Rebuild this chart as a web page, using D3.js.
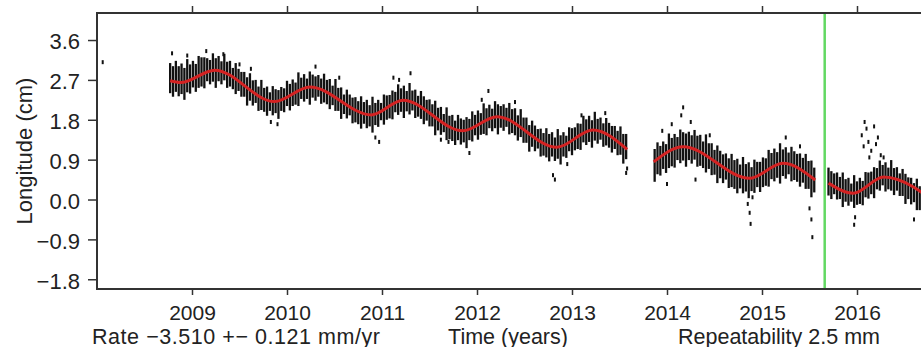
<!DOCTYPE html>
<html><head><meta charset="utf-8">
<script src="https://cdn.jsdelivr.net/npm/d3@7"></script>
<style>
body{margin:0;background:#fff}
svg{display:block}
text{font-family:"Liberation Sans",Arial,Helvetica,sans-serif;fill:#222}
</style>
</head><body>
<svg id="c" width="921" height="347"></svg>
<script>
// ---- data ----
const xTickYears = [2009, 2010, 2011, 2012, 2013, 2014, 2015, 2016];
const yTickValues = [3.6, 2.7, 1.8, 0.9, 0.0, -0.9, -1.8];
const eventTimes = [2015.66];           // green vertical marker
// fitted model (red) – knots; null separates segments
const fitT = [2008.77,2008.88,2009.24,2009.87,2010.24,2010.89,2011.22,2011.85,2012.21,2012.84,2013.22,2013.58,null,
              2013.86,2014.17,2014.87,2015.22,2015.56,null,
              2015.70,2015.96,2016.28,2016.90];
const fitV = [2.68,2.64,2.92,2.21,2.54,1.91,2.24,1.55,1.87,1.18,1.57,1.13,null,
              0.85,1.19,0.48,0.82,0.44,null,
              0.37,0.14,0.51,-0.20];
// observations summarised in bins (start year, bin width in years): low / high of each bin
const binStart = 2008.77, binStep = 0.03;
const binLo = [
2.40,2.32,2.43,2.33,2.38,2.25,2.42,2.39,2.53,2.43,
2.52,2.55,2.51,2.67,2.60,2.66,2.52,2.67,2.60,2.69,
2.52,2.55,2.49,2.38,2.45,2.32,2.32,2.12,2.23,2.12,
2.18,2.00,2.02,1.98,1.89,2.00,1.90,1.95,1.82,2.00,
1.97,2.11,2.01,2.11,2.14,2.11,2.27,2.21,2.27,2.14,
2.30,2.23,2.32,2.16,2.19,2.15,2.04,2.13,2.00,2.00,
1.82,1.93,1.83,1.90,1.72,1.74,1.70,1.60,1.71,1.61,
1.65,1.51,1.68,1.64,1.79,1.69,1.80,1.83,1.81,1.97,
1.91,1.98,1.84,1.99,1.92,2.01,1.84,1.87,1.82,1.70,
1.78,1.65,1.65,1.45,1.56,1.46,1.52,1.34,1.36,1.32,
1.23,1.34,1.24,1.29,1.16,1.34,1.31,1.45,1.35,1.46,
1.48,1.45,1.61,1.54,1.61,1.47,1.62,1.55,1.64,1.47,
1.50,1.45,1.33,1.41,1.28,1.28,1.08,1.19,1.09,1.15,
0.97,0.99,0.95,0.86,0.97,0.87,0.92,0.79,0.97,0.94,
1.09,1.00,1.11,1.14,1.12,1.29,1.23,1.30,1.17,1.33,
1.26,1.35,1.19,1.22,1.17,1.06,1.14,1.00,1.01,0.81,
0.91,null,null,null,null,null,null,null,null,null,
0.40,0.57,0.54,0.69,0.60,0.71,0.75,0.72,0.89,0.82,
0.88,0.74,0.89,0.81,0.90,0.74,0.76,0.71,0.61,0.69,
0.55,0.56,0.37,0.48,0.37,0.45,0.26,0.28,0.24,0.14,
0.25,0.14,0.18,0.03,0.19,0.15,0.28,0.17,0.28,0.31,
0.29,0.46,0.41,0.49,0.36,0.53,0.47,0.57,0.41,0.44,
0.40,0.29,0.38,0.24,0.24,0.05,0.16,null,null,null,
null,0.09,0.01,0.12,0.00,0.01,-0.17,-0.05,-0.14,-0.05,
-0.19,-0.12,-0.10,-0.13,0.05,0.02,0.12,0.03,0.23,0.20,
0.32,0.18,0.23,0.20,0.10,0.20,0.08,0.08,-0.10,0.01,
-0.11,-0.06,-0.24,-0.24,-0.30,-0.41];
const binHi = [
3.08,3.01,3.13,3.01,3.07,2.97,3.17,3.05,3.13,3.06,
3.24,3.21,3.21,3.19,3.15,3.30,3.19,3.24,3.12,3.29,
3.11,3.13,2.97,3.08,2.95,2.88,2.88,2.76,2.85,2.69,
2.70,2.55,2.70,2.52,2.55,2.42,2.56,2.49,2.47,2.54,
2.51,2.68,2.61,2.71,2.64,2.87,2.75,2.83,2.73,2.89,
2.82,2.78,2.81,2.73,2.84,2.70,2.72,2.57,2.72,2.52,
2.53,2.37,2.48,2.37,2.30,2.31,2.22,2.33,2.20,2.25,
2.13,2.32,2.18,2.25,2.18,2.37,2.35,2.36,2.46,2.43,
2.60,2.51,2.57,2.45,2.63,2.46,2.48,2.34,2.45,2.33,
2.25,2.26,2.15,2.23,2.07,2.09,1.93,2.08,1.89,1.91,
1.78,1.91,1.83,1.80,1.86,1.82,1.99,1.91,2.01,1.95,
2.17,2.06,2.14,2.05,2.22,2.15,2.11,2.15,2.07,2.18,
2.04,2.06,1.90,2.04,1.85,1.85,1.68,1.78,1.67,1.59,
1.60,1.50,1.61,1.48,1.52,1.40,1.59,1.45,1.52,1.44,
1.63,1.61,1.63,1.72,1.71,1.89,1.81,1.89,1.79,1.98,
1.82,1.85,1.72,1.84,1.73,1.66,1.66,1.55,1.65,1.48,
1.48,null,null,null,null,null,null,null,null,null,
1.14,1.29,1.21,1.31,1.25,1.49,1.39,1.48,1.41,1.58,
1.52,1.49,1.53,1.45,1.57,1.44,1.46,1.31,1.47,1.27,
1.27,1.12,1.22,1.10,1.02,1.04,0.93,1.03,0.89,0.92,
0.79,0.96,0.80,0.84,0.73,0.90,0.85,0.85,0.95,0.93,
1.12,1.05,1.15,1.07,1.27,1.13,1.18,1.06,1.19,1.09,
1.03,1.04,0.94,1.03,0.87,0.88,0.72,null,null,null,
null,0.72,0.64,0.59,0.61,0.51,0.61,0.46,0.49,0.36,
0.55,0.41,0.49,0.42,0.62,0.61,0.63,0.73,0.71,0.88,
0.78,0.84,0.72,0.89,0.71,0.73,0.59,0.69,0.58,0.50,
0.49,0.37,0.47,0.30,0.31,0.16];
// isolated observations (outliers)
const outT = [2008.06,2008.79,2008.95,2009.15,2009.33,2009.50,2009.62,2009.83,2009.90,2010.30,2010.55,2010.93,2010.97,
  2011.12,2011.18,2011.30,2011.62,2011.70,2011.92,2012.05,2012.12,2012.40,2012.80,2012.82,2012.95,2013.10,2013.35,2013.58,2013.57,
  2013.95,2014.05,2014.15,2014.17,2014.25,2014.00,2014.30,2014.45,2014.85,2014.87,2014.88,2014.90,2015.25,2015.50,2015.52,2015.53,2015.40,
  2015.98,2015.97,2016.05,2016.08,2016.10,2016.12,2016.15,2016.18,2016.20,2016.22,2016.25,2016.13,2016.07,2016.28,2016.60];
const outV = [3.10,3.30,3.25,3.35,3.28,3.05,2.95,1.75,1.70,3.00,2.75,1.40,1.30,
  2.75,2.70,2.85,1.35,1.30,1.05,2.25,2.45,2.20,0.55,0.45,0.80,1.90,1.95,0.70,0.60,
  1.55,1.70,1.90,2.08,1.75,0.35,0.45,1.45,-0.10,-0.30,-0.55,0.05,1.40,-0.20,-0.45,-0.85,1.20,
  -0.40,-0.57,1.45,1.75,1.60,1.30,1.10,1.65,1.25,1.40,1.00,0.95,1.20,0.95,-0.45];
const bottomTexts = ["Rate \u22123.510 +\u2212 0.121 mm/yr", "Time (years)", "Repeatability 2.5 mm"];
const yLabel = "Longitude (cm)";

// ---- drawing ----
const svg = d3.select("#c");
const x = d3.scaleLinear().domain([2008, 2017]).range([97, 952]);
const y = d3.scaleLinear().domain([-2.02, 4.21]).range([289, 13]);
const fmt = v => (v < 0 ? "\u2212" : "") + Math.abs(v).toFixed(1);
const ink = "#333";

svg.append("clipPath").attr("id","clip").append("rect")
  .attr("x", x(2008)+1).attr("y", y(4.21)+1).attr("width", x(2017)-x(2008)-2).attr("height", y(-2.02)-y(4.21)-2);

const plot = svg.append("g").attr("clip-path","url(#clip)");

const bins = binLo.map((lo,i)=>({t: binStart + i*binStep, lo, hi: binHi[i]})).filter(d=>d.lo!=null);
plot.append("g").selectAll("rect").data(bins).join("rect")
  .attr("x", d=>x(d.t)-1.15).attr("width", 2.3)
  .attr("y", d=>y(d.hi)).attr("height", d=>y(d.lo)-y(d.hi))
  .attr("fill", "#111");

const outs = outT.map((t,i)=>({t, v: outV[i]}));
plot.append("g").selectAll("rect").data(outs).join("rect")
  .attr("x", d=>x(d.t)-1).attr("width", 2)
  .attr("y", d=>y(d.v)-2).attr("height", 4)
  .attr("fill", "#111");

const fit = fitT.map((t,i)=>({t, v: fitV[i]}));
plot.append("path").datum(fit)
  .attr("d", d3.line().defined(d=>d.t!=null).x(d=>x(d.t)).y(d=>y(d.v)).curve(d3.curveMonotoneX))
  .attr("fill","none").attr("stroke","#d42222").attr("stroke-width",3);

svg.append("g").selectAll("line").data(eventTimes).join("line")
  .attr("x1", d=>x(d)).attr("x2", d=>x(d)).attr("y1", y(4.21)).attr("y2", y(-2.02))
  .attr("stroke","#62d862").attr("stroke-width",2.5);

// frame
svg.append("rect").attr("x", x(2008)).attr("y", y(4.21)).attr("width", x(2017)-x(2008)).attr("height", y(-2.02)-y(4.21))
  .attr("fill","none").attr("stroke", ink).attr("stroke-width", 2);

// axes
const ax = svg.append("g").attr("transform",`translate(0,${y(-2.02)})`)
  .call(d3.axisBottom(x).tickValues(xTickYears).tickFormat(d3.format("d")).tickSize(6).tickPadding(10));
const axTop = svg.append("g").attr("transform",`translate(0,${y(4.21)})`)
  .call(d3.axisTop(x).tickValues(xTickYears).tickFormat("").tickSize(7));
const ay = svg.append("g").attr("transform",`translate(${x(2008)},0)`)
  .call(d3.axisLeft(y).tickValues(yTickValues).tickFormat(fmt).tickSize(9).tickPadding(8));
[ax, axTop, ay].forEach(g=>{
  g.select(".domain").remove();
  g.selectAll(".tick line").attr("stroke", ink).attr("stroke-width", 1.5);
  g.selectAll(".tick text").attr("font-size", 21).attr("fill","#222")
    .style("font-family",'"Liberation Sans",Arial,sans-serif');
});
ay.selectAll(".tick text").attr("font-size", 22).attr("dy","0.40em");

// labels
svg.append("text").attr("transform","translate(32,151) rotate(-90)").attr("text-anchor","middle")
  .attr("font-size",22).text(yLabel);
svg.append("text").attr("x",92).attr("y",344).attr("font-size",21.5).attr("textLength",288).text(bottomTexts[0]);
svg.append("text").attr("x",508).attr("y",344).attr("text-anchor","middle").attr("font-size",21.5).text(bottomTexts[1]);
svg.append("text").attr("x",678).attr("y",344).attr("font-size",21.5).text(bottomTexts[2]);
</script>
</body></html>
